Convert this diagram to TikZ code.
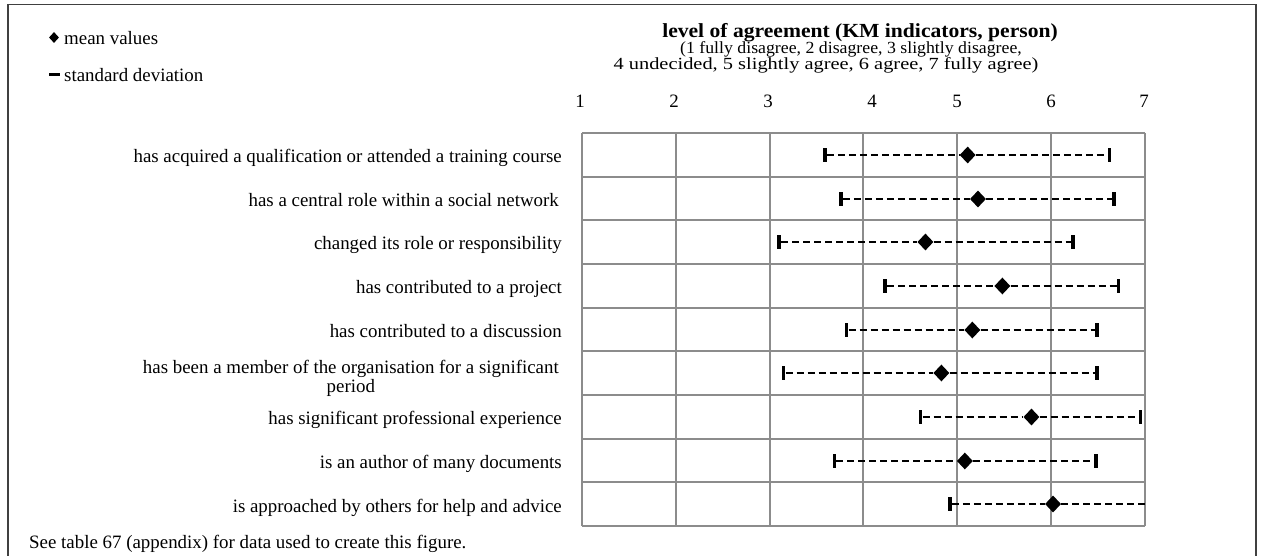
\documentclass[tikz,border=0pt]{standalone}
\usepackage{fontspec}
\usepackage{graphicx}
\setmainfont{Liberation Serif}
\usetikzlibrary{shapes.geometric}

\definecolor{framegray}{HTML}{404040}
\definecolor{gridgray}{HTML}{8C8C8C}

\newcommand{\lblfont}{\fontsize{18.9}{19}\selectfont}
\newcommand{\subfont}{\fontsize{17}{17}\selectfont}
\newcommand{\ttlfont}{\fontsize{20}{21}\selectfont\bfseries}

\tikzset{
  frameline/.style={draw=framegray, line width=1.8pt},
  gridline/.style={draw=gridgray, line width=1.8pt},
  meanmark/.style={diamond, fill=black, inner sep=0pt, minimum width=16pt, minimum height=17pt},
  sdcap/.style={rectangle, fill=black, inner sep=0pt, minimum width=3.5pt, minimum height=14pt},
  sdline/.style={black, line width=1.8pt, dash pattern=on 7pt off 4pt},
  rowlabel/.style={anchor=base east, inner sep=0pt, font=\lblfont},
  ticklabel/.style={anchor=base, inner sep=0pt, font=\lblfont},
  plaintext/.style={anchor=base west, inner sep=0pt, font=\lblfont},
  headline/.style={anchor=base, inner sep=0pt},
}

\begin{document}
\begin{tikzpicture}[x=1pt, y=-1pt]
  \useasboundingbox (0,0) rectangle (1261,556);

  % outer frame, open at the bottom
  \draw[frameline] (8,560) -- (8,4.5) -- (1256,4.5) -- (1256,560);

  % legend
  \node[diamond, fill=black, inner sep=0pt, minimum width=10pt, minimum height=11pt] (legmean) at (54,37.5) {};
  \node[plaintext] (legmeantxt) at (64,45) {mean values};
  \node[rectangle, fill=black, inner sep=0pt, minimum width=11pt, minimum height=3.5pt] (legsd) at (54.5,74.5) {};
  \node[plaintext] (legsdtxt) at (64,82) {standard deviation};

  % heading
  \node[headline, font=\ttlfont] (title) at (860,37.5)
    {\scalebox{1.08}[1]{level of agreement (KM indicators, person)}};
  \node[headline, font=\subfont] (sub1) at (851,54)
    {\scalebox{1.046}[1]{(1 fully disagree, 2 disagree, 3 slightly disagree,}};
  \node[headline, font=\subfont] (sub2) at (826,70)
    {\scalebox{1.2}[1]{4 undecided, 5 slightly agree, 6 agree, 7 fully agree)}};

  % scale labels
  \foreach \v/\xx in {1/580, 2/674, 3/768, 4/872, 5/957, 6/1051, 7/1144}
    \node[ticklabel] (tick\v) at (\xx,108) {\v};

  % grid: 6 columns (values 1 to 7), 9 rows
  \foreach \c in {0,...,6}
    \draw[gridline] ({round(582+\c*93.833)},133) -- ({round(582+\c*93.833)},526);
  \foreach \r in {0,...,9}
    \draw[gridline] (582,{round(133+\r*43.667)}) -- (1145,{round(133+\r*43.667)});

  % statements
  \node[rowlabel] (lab1) at (562,163) {has acquired a qualification or attended a training course};
  \node[rowlabel] (lab2) at (559,206.5) {has a central role within a social network};
  \node[rowlabel] (lab3) at (562,250) {changed its role or responsibility};
  \node[rowlabel] (lab4) at (562,293.5) {has contributed to a project};
  \node[rowlabel] (lab5) at (562,337.2) {has contributed to a discussion};
  \node[anchor=east, inner sep=0pt, font=\lblfont, align=center] (lab6) at (559,378)
    {has been a member of the organisation for a significant\\period};
  \node[rowlabel] (lab7) at (562,424.5) {has significant professional experience};
  \node[rowlabel] (lab8) at (562,468.2) {is an author of many documents};
  \node[rowlabel] (lab9) at (562,512) {is approached by others for help and advice};

  % mean values with standard deviation ranges
  \foreach \i/\lo/\mn/\hi in {1/3.59/5.11/6.62, 2/3.76/5.22/6.67, 3/3.10/4.66/6.23,
                              4/4.23/5.48/6.72, 5/3.82/5.16/6.49, 6/3.15/4.83/6.49,
                              7/4.61/5.79/6.95, 8/3.69/5.08/6.48} {
    \pgfmathsetmacro{\yc}{round(133+(\i-0.5)*43.667)}
    \node[sdcap] (lo\i) at ({582+(\lo-1)*93.833},\yc) {};
    \node[sdcap] (hi\i) at ({582+(\hi-1)*93.833},\yc) {};
    \node[meanmark] (m\i) at ({582+(\mn-1)*93.833},\yc) {};
    \draw[sdline] (lo\i) -- (m\i) -- (hi\i);
  }
  % last row: upper range runs past the end of the scale
  \node[sdcap] (lo9) at ({582+(4.92-1)*93.833},504) {};
  \node[meanmark] (m9) at ({582+(6.02-1)*93.833},504) {};
  \coordinate (hi9) at (1145,504);
  \draw[sdline] (lo9) -- (m9) -- (hi9);

  % source note
  \node[plaintext] (note) at (29,548) {See table 67 (appendix) for data used to create this figure.};
\end{tikzpicture}
\end{document}
